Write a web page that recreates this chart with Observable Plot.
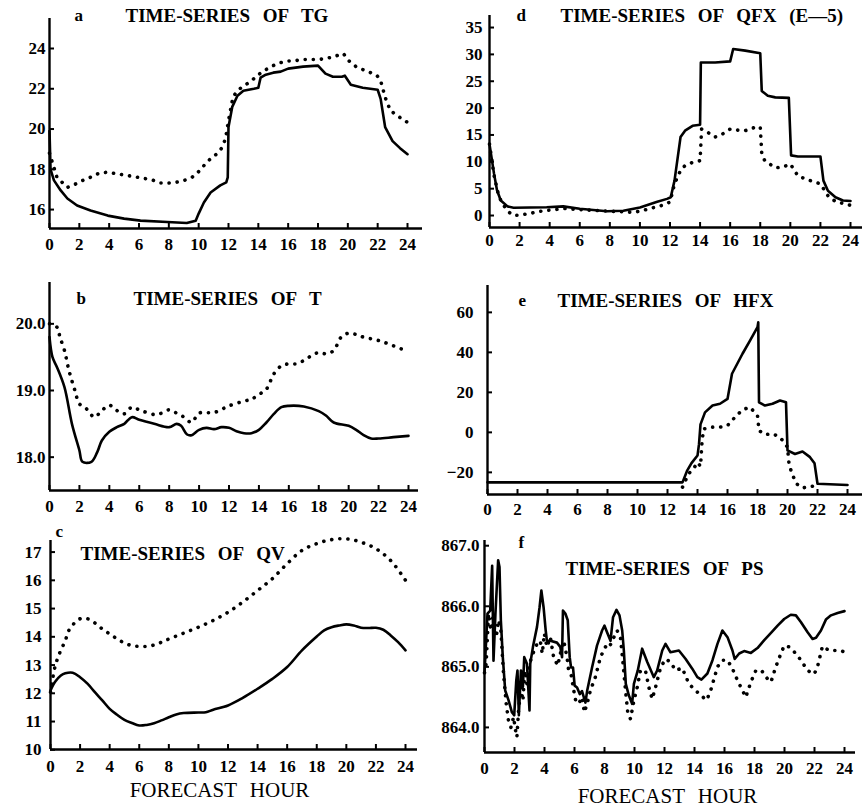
<!DOCTYPE html>
<html><head><meta charset="utf-8">
<script src="https://cdn.jsdelivr.net/npm/d3@7"></script>
<script src="https://cdn.jsdelivr.net/npm/@observablehq/plot@0.6"></script>
<style>
body{margin:0;background:#fff;}
#root{position:relative;width:864px;height:811px;overflow:hidden;background:#fff;}
#root svg{position:absolute;background:transparent;}
#root svg text{word-spacing:8px;}
</style></head><body><div id="root"></div>
<script>
const xTicks = [0,2,4,6,8,10,12,14,16,18,20,22,24];

// a: TG
const tgSolidHour = [0,0.07,0.3,0.75,1.2,1.85,2.75,3.9,5,6.1,7.9,9.2,9.8,10.0,10.35,10.8,11.45,11.85,11.95,12.0,12.25,12.6,13.0,13.7,14.0,14.15,14.5,15,15.5,16,17,18,18.5,19,19.6,19.8,20.2,21,22,22.2,22.5,23,23.5,24];
const tgSolidVal  = [19.9,18.0,17.45,16.95,16.55,16.2,15.95,15.7,15.55,15.45,15.38,15.33,15.45,15.8,16.35,16.85,17.2,17.35,17.6,20.1,21.1,21.65,21.9,22.0,22.05,22.55,22.7,22.8,22.85,23.0,23.1,23.15,22.75,22.6,22.6,22.65,22.2,22.05,21.95,21.5,20.1,19.4,19.05,18.75];
const tgDotHour = [0,0.5,1.2,1.75,2.3,2.85,3.3,3.9,4.45,5,5.55,6.1,6.9,7.45,8,8.45,9,9.55,9.9,10.25,10.55,10.9,11.25,11.55,11.8,12.0,12.15,12.3,12.6,12.9,13.25,13.7,14.0,14.5,15,15.5,16,16.5,17,17.5,18,18.5,19,19.7,20.05,20.6,21.3,21.95,22.2,22.5,22.85,23.3,24];
const tgDotVal  = [18.8,17.6,17.1,17.27,17.47,17.64,17.8,17.86,17.78,17.72,17.65,17.58,17.47,17.32,17.32,17.35,17.44,17.6,17.8,18.1,18.35,18.6,18.78,19.06,19.52,20.42,21.0,21.58,21.91,22.08,22.25,22.5,22.7,22.95,23.15,23.3,23.38,23.4,23.45,23.45,23.45,23.5,23.58,23.75,23.4,23.07,22.87,22.66,22.4,21.58,20.92,20.67,20.33];

// d: QFX (E-5)
const qfxSolidHour = [0,0.3,0.5,0.75,1.2,1.6,3.8,4.9,6,7.8,8.9,10,11.1,11.8,12.05,12.3,12.7,13,13.5,14,14.05,15,16,16.2,17,18,18.1,18.5,19,19.9,20.05,20.5,22,22.2,22.5,23,23.5,24];
const qfxSolidVal  = [13.3,7.8,4.7,2.8,1.7,1.45,1.55,1.7,1.25,0.8,0.9,1.5,2.5,3.1,3.4,6.5,14.6,15.8,16.7,16.9,28.5,28.5,28.7,31.0,30.7,30.2,23.2,22.3,22.0,21.9,11.2,11.0,11.0,6.5,4.6,3.4,2.8,2.7];
const qfxDotHour = [0,0.3,0.6,0.85,1.3,1.6,2.05,2.7,3.4,4.1,5,6,8,9.6,10.15,10.8,11.5,12,12.3,12.7,13,13.5,14,14.1,14.5,15,15.5,16,16.5,17,17.5,18,18.1,18.3,19,19.5,20,20.5,21,22,22.5,23,24];
const qfxDotVal  = [13.3,7.5,3.8,2.2,0.6,0.0,0.1,0.4,0.8,1.05,1.3,1.1,0.8,0.6,0.9,1.4,1.9,2.5,5.9,8.4,9.3,9.9,10.2,16.1,15.5,14.6,15.2,16.1,15.9,15.8,16.3,16.5,11.5,10.2,8.9,9.0,9.6,7.4,6.8,5.9,3.7,2.6,1.9];

// b: T
const tSolidHour = [0,0.2,0.5,1,1.5,2,2.2,2.8,3.2,3.5,4,4.5,5,5.5,6,7,8,8.5,8.8,9.2,9.5,10,10.5,11,11.5,12,12.5,13,13.5,14,14.5,15,15.5,16,17,18,18.5,19,20,20.5,21,21.5,22,23,24];
const tSolidVal  = [19.8,19.5,19.35,19.05,18.5,18.1,17.93,17.93,18.08,18.25,18.38,18.45,18.5,18.6,18.56,18.5,18.45,18.5,18.47,18.34,18.33,18.41,18.44,18.42,18.45,18.44,18.39,18.36,18.36,18.41,18.52,18.65,18.75,18.77,18.76,18.69,18.62,18.52,18.47,18.41,18.33,18.28,18.28,18.3,18.32];
const tDotHour = [0,0.5,0.7,1,1.3,1.7,2,2.5,3,3.5,4,4.5,5,5.5,6,7,7.5,8,8.5,9,9.5,10,11,12,13,13.5,14,14.5,15,15.5,16,16.5,17,17.5,18,18.5,19,19.5,20,20.5,21,22,23,24];
const tDotVal  = [20.0,19.95,19.8,19.6,19.3,19.0,18.8,18.72,18.6,18.7,18.78,18.7,18.65,18.75,18.71,18.64,18.66,18.71,18.66,18.6,18.52,18.66,18.67,18.77,18.84,18.87,18.94,19.02,19.25,19.37,19.4,19.4,19.45,19.52,19.57,19.55,19.6,19.8,19.86,19.84,19.8,19.75,19.67,19.58];

// e: HFX
const hfxSolidHour = [0,13,13.3,13.6,14,14.1,14.2,14.5,15,15.5,16,16.3,17,17.5,18,18.05,18.1,18.5,19,19.5,19.9,20.0,20.5,21,21.5,21.8,22.0,24];
const hfxSolidVal  = [-25,-25,-19.3,-15.4,-11.6,-5.9,4,10,13.4,14.3,16.7,29.3,39.3,45.9,52.6,55,15,13.4,14.3,15.9,15,-9,-10.8,-9.6,-12.4,-15.4,-25.7,-26.3];
const hfxDotHour = [13,13.3,13.5,13.8,14,14.2,14.3,14.4,15,15.5,16,16.5,17,17.5,18,18.1,18.5,19,19.5,20,20.1,20.3,20.6,21,21.5,22];
const hfxDotVal  = [-27.4,-22.4,-19.9,-17.4,-15,-17,-5,1.7,2.6,2.6,3.4,7.6,11.3,12.6,8.4,0.9,-1.1,-0.7,-2.4,-7.4,-15.7,-20.7,-25.7,-27.8,-27.1,-26.6];

// c: QV
const qvSolidHour = [0,0.3,0.7,1,1.5,2,2.5,3,3.5,4,4.5,5,5.5,6,6.5,7,7.5,8,8.5,9,10,10.5,11,12,13,14,15,16,17,18,18.5,19,19.5,20,20.5,21,21.5,22,22.5,23,23.5,24];
const qvSolidVal  = [12.1,12.4,12.63,12.71,12.73,12.57,12.34,12.04,11.75,11.45,11.24,11.06,10.95,10.86,10.88,10.94,11.04,11.15,11.25,11.3,11.32,11.33,11.42,11.57,11.84,12.16,12.51,12.93,13.52,14.01,14.23,14.34,14.4,14.44,14.4,14.32,14.31,14.32,14.25,14.05,13.81,13.52];
const qvDotHour = [0,0.3,0.6,1,1.3,2,2.5,3,3.5,4,4.5,5,5.5,6,6.5,7,7.5,8,9,10,11,12,13,14,15,16,17,18,19,20,21,22,23,24];
const qvDotVal  = [12.04,12.93,13.4,13.87,14.28,14.64,14.64,14.49,14.28,14.1,13.93,13.78,13.69,13.66,13.66,13.71,13.81,13.92,14.13,14.34,14.58,14.87,15.23,15.64,16.06,16.59,17.06,17.3,17.44,17.47,17.35,17.12,16.7,16.0];

// f: PS
const psSolidHour = [0,0.2,0.38,0.51,0.6,0.73,0.91,1.0,1.09,1.22,1.38,1.6,1.83,1.98,2.12,2.2,2.29,2.43,2.56,2.65,2.83,3.0,3.05,3.23,3.5,3.67,3.79,3.94,4.08,4.16,4.39,4.83,5.05,5.17,5.23,5.39,5.55,5.68,5.77,5.9,6.01,6.17,6.35,6.5,6.73,6.84,7.17,7.5,7.84,8.0,8.17,8.4,8.57,8.8,9.0,9.18,9.29,9.42,9.62,9.84,9.96,10.22,10.51,10.85,11.29,11.51,11.85,12.07,12.4,12.96,13.41,13.85,14.19,14.46,14.86,15.2,15.53,15.86,16.2,16.53,16.68,16.98,17.31,17.76,18.2,18.65,19.1,19.54,19.98,20.42,20.76,21.09,21.54,21.87,22.1,22.43,22.76,23.1,23.54,24.0];
const psSolidVal  = [864.9,865.88,865.93,866.67,865.1,865.88,866.76,866.65,865.77,865.16,864.61,864.45,864.25,864.2,864.78,864.94,864.2,864.94,864.67,865.16,865.05,864.28,865.05,865.33,865.66,865.98,866.26,865.98,865.6,865.43,865.43,865.4,865.33,865.16,865.93,865.88,865.77,865.16,864.99,864.99,864.69,864.66,864.55,864.6,864.41,864.6,864.99,865.35,865.6,865.68,865.57,865.43,865.82,865.94,865.85,865.6,865.27,864.72,864.53,864.39,864.72,864.94,865.3,865.08,864.83,864.94,865.27,865.38,865.24,865.27,865.13,864.97,864.83,864.79,864.89,865.11,865.38,865.6,865.49,865.27,865.13,865.22,865.26,865.23,865.31,865.44,865.56,865.68,865.79,865.86,865.85,865.74,865.57,865.46,865.48,865.6,865.78,865.85,865.89,865.92];
const psDotHour = [0,0.11,0.27,0.42,0.6,0.78,0.94,1.09,1.27,1.45,1.6,1.76,1.94,2.07,2.16,2.27,2.43,2.56,2.69,2.83,3.0,3.23,3.5,3.72,3.85,3.99,4.16,4.39,4.61,4.88,5.06,5.28,5.5,5.61,5.77,5.95,6.08,6.28,6.5,6.66,6.84,7.06,7.39,7.73,8.06,8.28,8.51,8.84,9.06,9.24,9.4,9.55,9.73,9.96,10.18,10.4,10.73,10.96,11.18,11.4,11.74,12.07,12.4,12.74,13.18,13.63,14.07,14.52,14.81,15.08,15.53,15.86,16.2,16.53,16.86,17.2,17.42,17.76,18.09,18.47,18.87,19.1,19.42,19.76,19.98,20.31,20.76,21.09,21.54,21.98,22.2,22.53,22.98,23.32,23.76,24.1];
const psDotVal  = [864.9,865.05,865.88,865.6,865.88,865.49,865.77,865.6,864.88,864.39,864.11,864.0,864.17,863.95,863.84,864.28,864.66,864.44,864.94,864.72,865.05,865.22,865.38,865.43,865.22,865.55,865.33,865.49,865.16,865.02,865.22,865.43,865.16,864.94,864.88,864.61,864.44,864.39,864.5,864.25,864.39,864.61,864.83,865.16,865.33,865.3,865.43,865.6,865.49,865.05,864.61,864.25,864.14,864.44,864.66,864.94,864.94,864.66,864.47,864.66,864.99,865.13,865.08,864.94,864.98,864.72,864.61,864.51,864.45,864.61,865.0,865.11,865.11,864.97,864.78,864.61,864.5,864.75,864.94,864.94,864.8,864.75,865.0,865.22,865.35,865.33,865.22,865.11,864.94,864.88,865.0,865.34,865.27,865.27,865.27,865.23];

const FONT = "'Liberation Serif', 'Times New Roman', serif";
const root = document.getElementById("root");
const pts = (H, V) => H.map((h, i) => ({h, v: V[i]}));

function panel(c) {
  const innerW = c.xEnd - c.x0, innerH = c.yBot - c.yTop;
  const xMax = 24 * (c.xEnd - c.x0) / (c.x24 - c.x0);
  const marks = [
    Plot.ruleX(xTicks, {x: d => d, insetTop: innerH - 5, strokeWidth: 2}),
    Plot.ruleY(c.yTicks, {y: d => d, insetRight: innerW - 5, strokeWidth: 2}),
    Plot.ruleY([c.yDomain[0]], {strokeWidth: 2.4}),
    Plot.ruleX([0], {strokeWidth: 2.4}),
    Plot.axisX({ticks: xTicks, tickSize: 0, tickPadding: c.xPad, fontSize: 17, fontWeight: "bold", fontFamily: FONT, tickFormat: d => String(d), label: null}),
    Plot.axisY({ticks: c.yTicks, tickSize: 0, tickPadding: c.yPad, fontSize: 17, fontWeight: "bold", fontFamily: FONT, tickFormat: c.yFmt, label: null}),
    Plot.line(pts(c.sH, c.sV), {x: "h", y: "v", stroke: "#000", strokeWidth: 2.6, curve: c.curve}),
    Plot.line(pts(c.dH, c.dV), {x: "h", y: "v", stroke: "#000", strokeWidth: 3.6, strokeDasharray: "0.1 8", strokeLinecap: "round", curve: c.curve}),
    Plot.text([c.letter], {frameAnchor: "top-left", dx: c.lx - c.x0, dy: c.ly - c.yTop, textAnchor: "start", lineAnchor: "middle", fontSize: 17, fontWeight: "bold", fontFamily: FONT}),
    Plot.text([c.title], {frameAnchor: "top-left", dx: c.tx - c.x0, dy: c.ty - c.yTop, textAnchor: "start", lineAnchor: "middle", fontSize: 19, fontWeight: "bold", fontFamily: FONT})
  ];
  if (c.xlabel) marks.push(Plot.text([c.xlabel], {frameAnchor: "bottom", dx: c.xlx - (c.x0 + c.xEnd) / 2, dy: c.xly - c.yBot, lineAnchor: "middle", fontSize: 21, fontFamily: FONT}));
  const svg = Plot.plot({
    width: c.W, height: c.H,
    marginLeft: c.x0 - c.L, marginRight: c.L + c.W - c.xEnd,
    marginTop: c.yTop - c.T, marginBottom: c.T + c.H - c.yBot,
    x: {domain: [0, xMax]},
    y: {domain: c.yDomain},
    style: {fontFamily: FONT, background: "transparent", color: "#000", overflow: "visible"},
    marks
  });
  svg.style.left = c.L + "px";
  svg.style.top = c.T + "px";
  root.appendChild(svg);
}

panel({L: 0, T: 0, W: 432, H: 262, x0: 49, x24: 407, xEnd: 422, yTop: 18, yBot: 228,
  yDomain: [15.06, 25.49], yTicks: [16, 18, 20, 22, 24], yFmt: d => String(d), xPad: 9, yPad: 4,
  sH: tgSolidHour, sV: tgSolidVal, dH: tgDotHour, dV: tgDotVal, curve: "linear",
  letter: "a", lx: 74, ly: 15, title: "TIME-SERIES OF TG", tx: 125, ty: 15});

panel({L: 432, T: 0, W: 432, H: 262, x0: 489, x24: 850, xEnd: 862, yTop: 15, yBot: 227,
  yDomain: [-2.23, 37.24], yTicks: [0, 5, 10, 15, 20, 25, 30, 35], yFmt: d => String(d), xPad: 6, yPad: 7,
  sH: qfxSolidHour, sV: qfxSolidVal, dH: qfxDotHour, dV: qfxDotVal, curve: "linear",
  letter: "d", lx: 516, ly: 15, title: "TIME-SERIES OF QFX (E—5)", tx: 560, ty: 15});

panel({L: 0, T: 268, W: 432, H: 260, x0: 49, x24: 408, xEnd: 418, yTop: 282, yBot: 490,
  yDomain: [17.5, 20.62], yTicks: [18, 19, 20], yFmt: d => d.toFixed(1), xPad: 9, yPad: 4,
  sH: tSolidHour, sV: tSolidVal, dH: tDotHour, dV: tDotVal, curve: "catmull-rom",
  letter: "b", lx: 76, ly: 298, title: "TIME-SERIES OF T", tx: 133, ty: 298});

panel({L: 432, T: 268, W: 432, H: 260, x0: 487, x24: 847, xEnd: 862, yTop: 285, yBot: 494,
  yDomain: [-31.07, 73.43], yTicks: [-20, 0, 20, 40, 60], yFmt: d => d < 0 ? "−" + Math.abs(d) : String(d), xPad: 8, yPad: 14,
  sH: hfxSolidHour, sV: hfxSolidVal, dH: hfxDotHour, dV: hfxDotVal, curve: "linear",
  letter: "e", lx: 518, ly: 300, title: "TIME-SERIES OF HFX", tx: 557, ty: 300});

panel({L: 0, T: 528, W: 432, H: 283, x0: 50, x24: 405, xEnd: 417, yTop: 540, yBot: 749,
  yDomain: [10.01, 17.41], yTicks: [10, 11, 12, 13, 14, 15, 16, 17], yFmt: d => String(d), xPad: 10, yPad: 9,
  sH: qvSolidHour, sV: qvSolidVal, dH: qvDotHour, dV: qvDotVal, curve: "catmull-rom",
  letter: "c", lx: 55, ly: 531, title: "TIME-SERIES OF QV", tx: 80, ty: 553,
  xlabel: "FORECAST HOUR", xlx: 219, xly: 790});

panel({L: 432, T: 528, W: 432, H: 283, x0: 484, x24: 844, xEnd: 855, yTop: 540, yBot: 752,
  yDomain: [863.586, 867.086], yTicks: [864, 865, 866, 867], yFmt: d => d.toFixed(1), xPad: 9, yPad: 5,
  sH: psSolidHour, sV: psSolidVal, dH: psDotHour, dV: psDotVal, curve: "linear",
  letter: "f", lx: 518, ly: 542, title: "TIME-SERIES OF PS", tx: 565, ty: 568,
  xlabel: "FORECAST HOUR", xlx: 667, xly: 796});
</script>
</body></html>
